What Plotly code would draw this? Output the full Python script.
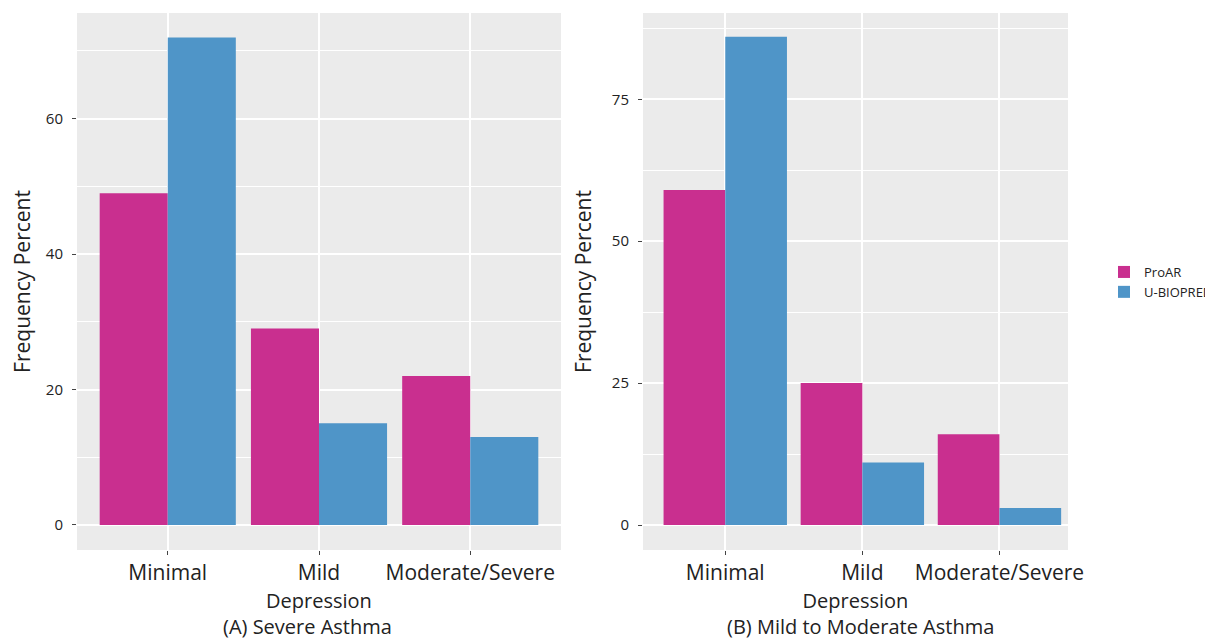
import plotly.graph_objects as go

categories = ["Minimal", "Mild", "Moderate/Severe"]
series_names = ["ProAR", "U-BIOPRED"]
severe_proar = [49, 29, 22]
severe_ubiopred = [72, 15, 13]
mild_proar = [59, 25, 16]
mild_ubiopred = [86, 11, 3]
colors = ["#C92F8F", "#4F95C8"]

# page body has an 8px margin, so the figure is drawn 8px in from the top-left
OFF = 8
W, H = 1213 - OFF, 640 - OFF
FONT = "Open Sans"
TXT = "#222"

fig = go.Figure()
fig.add_trace(go.Bar(x=categories, y=severe_proar, name=series_names[0], marker=dict(color=colors[0], line=dict(width=0)),
                     xaxis="x", yaxis="y", legendgroup="a", showlegend=True))
fig.add_trace(go.Bar(x=categories, y=severe_ubiopred, name=series_names[1], marker=dict(color=colors[1], line=dict(width=0)),
                     xaxis="x", yaxis="y", legendgroup="b", showlegend=True))
fig.add_trace(go.Bar(x=categories, y=mild_proar, name=series_names[0], marker=dict(color=colors[0], line=dict(width=0)),
                     xaxis="x2", yaxis="y2", legendgroup="a", showlegend=False))
fig.add_trace(go.Bar(x=categories, y=mild_ubiopred, name=series_names[1], marker=dict(color=colors[1], line=dict(width=0)),
                     xaxis="x2", yaxis="y2", legendgroup="b", showlegend=False))

def px(x):
    return (x - OFF) / W

def py(y):
    return 1 - (y - OFF) / H

ydom = [py(550), py(13)]
xcommon = dict(type="category", showgrid=True, gridcolor="white", gridwidth=1.5,
               ticks="outside", ticklen=4, tickcolor="#444", tickfont=dict(family=FONT, size=21, color=TXT),
               zeroline=False, showline=False, fixedrange=True,
               title=dict(text="Depression", font=dict(family=FONT, size=20, color=TXT), standoff=8))
ycommon = dict(showgrid=True, gridcolor="white", gridwidth=1.6, zeroline=False, showline=False,
               ticks="outside", ticklen=4, tickcolor="#444", tickfont=dict(family=FONT, size=15, color=TXT),
               ticklabelstandoff=6,
               title=dict(text="Frequency Percent", font=dict(family=FONT, size=21, color=TXT), standoff=14),
               domain=ydom)

fig.update_layout(
    width=W, height=H,
    paper_bgcolor="white", plot_bgcolor="#EBEBEB",
    barmode="group", bargap=0.1, bargroupgap=0,
    margin=dict(l=0, r=0, t=0, b=0, autoexpand=False),
    xaxis=dict(domain=[px(77), px(561)], anchor="y", range=[-0.6, 2.6], **xcommon),
    yaxis=dict(anchor="x", range=[-3.7, 75.6], tickvals=[0, 20, 40, 60],
               minor=dict(dtick=10, tick0=0, showgrid=True, gridcolor="white", gridwidth=0.7), **ycommon),
    xaxis2=dict(domain=[px(643), px(1068)], anchor="y2", range=[-0.6, 2.5], **xcommon),
    yaxis2=dict(anchor="x2", range=[-4.4, 90.2], tickvals=[0, 25, 50, 75],
                minor=dict(dtick=12.5, tick0=0, showgrid=True, gridcolor="white", gridwidth=0.7), **ycommon),
    legend=dict(x=px(1104), y=py(257), xanchor="left", yanchor="top", font=dict(family=FONT, size=13, color=TXT),
                bgcolor="rgba(0,0,0,0)", tracegroupgap=0),
    font=dict(family=FONT),
    annotations=[
        dict(text="(A) Severe Asthma", x=px(307), y=py(626), xref="paper", yref="paper", showarrow=False,
             font=dict(family=FONT, size=20, color=TXT), xanchor="center", yanchor="middle"),
        dict(text="(B) Mild to Moderate Asthma", x=px(860), y=py(626), xref="paper", yref="paper", showarrow=False,
             font=dict(family=FONT, size=20, color=TXT), xanchor="center", yanchor="middle"),
    ],
)

fig.write_html("out.html")
